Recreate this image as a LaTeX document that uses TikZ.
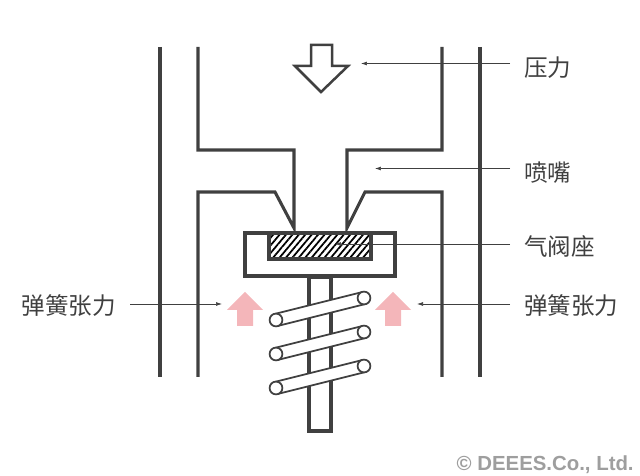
\documentclass[tikz,border=0pt]{standalone}
\usepackage{fontspec}
\setmainfont{Liberation Sans}
\newfontfamily\cjk{Noto Sans CJK SC}
\usetikzlibrary{arrows.meta,patterns.meta}
\definecolor{wallgray}{HTML}{404040}
\definecolor{pinkup}{HTML}{F4B6BA}
\tikzset{
  wall/.style={line width=0.062cm,draw=wallgray},
  thinwall/.style={line width=0.035cm,draw=wallgray},
  callout/.style={font=\cjk\fontsize{13.4}{15}\selectfont,text=wallgray,inner xsep=0.28cm,inner ysep=0pt},
  leader/.style={-{Latex[length=0.12cm,width=0.08cm]},line width=0.4pt,draw=wallgray},
}
\begin{document}
\begin{tikzpicture}[x=0.02cm,y=-0.02cm]
	\useasboundingbox (0,0) rectangle (640,476);
	% walls and nozzle
	\draw[wall] (160,47) -- (160,377);
	\draw[wall] (480,47) -- (480,377);
	\draw[wall] (198,47) -- (198,150) -- (294,150) -- (294,228) -- (275,192) -- (198,192) -- (198,377);
	\draw[wall] (442,47) -- (442,150) -- (347,150) -- (347,228) -- (365,192) -- (442,192) -- (442,377);
	% pressure arrow
	\draw[thinwall,line width=0.05cm,miter limit=10] (311,45) -- (332,45) -- (332,66) -- (348,66) -- (321,92) -- (295,66) -- (311,66) -- cycle;
	% valve seat, stem
	\draw[wall,fill=white] (309,277) rectangle (331,431);
	\draw[wall,fill=white] (245,233) rectangle (395,276);
	\draw[wall,pattern={Lines[angle=50,distance=2.8pt,line width=1pt]}] (269,233) rectangle (371,259);
	% spring
	\foreach \yy in {320,354,388} {
		\draw[thinwall,fill=white] (277.5,\yy+6) -- (365.5,\yy-16) -- (362.5,\yy-28) -- (274.5,\yy-6) -- cycle;
		\draw[thinwall,fill=white] (276,\yy) circle (6.4);
		\draw[thinwall,fill=white] (364,\yy-22) circle (6.4);
	}
	% pink arrows
	\foreach \xx in {245,393}
		\fill[pinkup] (\xx,292) -- (\xx+18,310) -- (\xx+8,310) -- (\xx+8,326) -- (\xx-8,326) -- (\xx-8,310) -- (\xx-18,310) -- cycle;
	% labels
	\node[callout,anchor=west] (press) at (510,68) {压力};
	\node[callout,anchor=west] (nozzle) at (510,173) {喷嘴};
	\node[callout,anchor=west] (seat) at (510,246) {气阀座};
	\node[callout,anchor=west] (springr) at (510,306) {弹簧张力};
	\node[callout,anchor=east] (springl) at (130,306) {弹簧张力};
	\node[anchor=east,text=black!38,font=\fontsize{11.6}{14}\selectfont\bfseries,inner sep=0pt] (mark) at (634,465) {© DEEES.Co., Ltd.};
	\coordinate (pressend) at (361,63.5);
	\coordinate (nozzleend) at (375,168.5);
	\coordinate (seatend) at (335,244);
	\coordinate (springrend) at (417,304);
	\coordinate (springlend) at (222,304);
	\draw[leader] (press.west |- pressend) -- (pressend);
	\draw[leader] (nozzle.west |- nozzleend) -- (nozzleend);
	\draw[leader] (seat.west |- seatend) -- (seatend);
	\draw[leader] (springr.west |- springrend) -- (springrend);
	\draw[leader] (springl.east |- springlend) -- (springlend);
\end{tikzpicture}
\end{document}
